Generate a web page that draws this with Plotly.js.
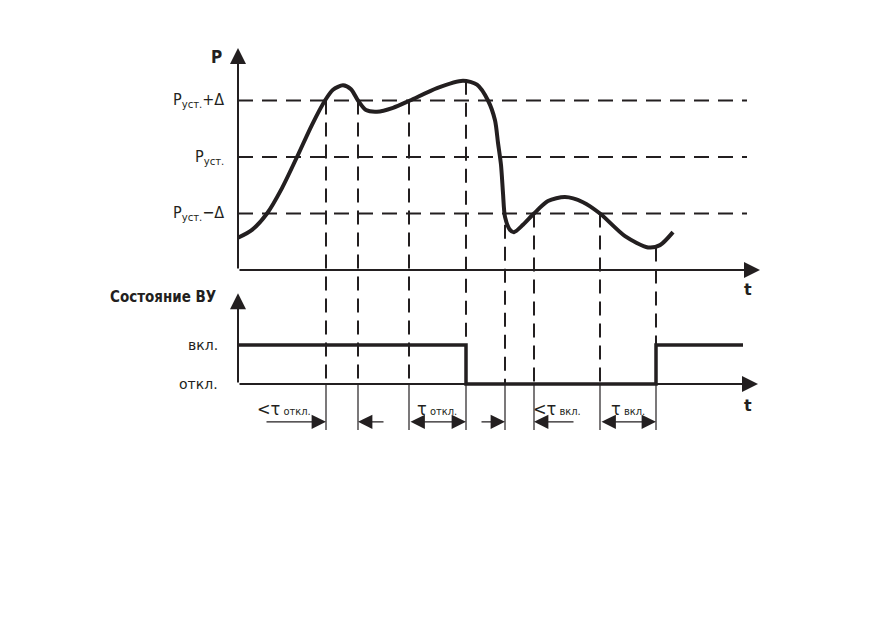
<!DOCTYPE html>
<html><head><meta charset="utf-8">
<script src="https://cdn.plot.ly/plotly-3.0.1.min.js"></script>
<style>html,body{margin:0;padding:0;background:#fff}</style>
</head><body><div id="chart" style="width:872px;height:618px"></div>
<script>
// ---- data (t: time units, P: in units of Δ relative to Pуст., state: 0 = откл., 1 = вкл.)
const curveT = [0, 1.4, 2.9, 4.4, 5.9, 7.4, 8.7, 9.5, 10.5, 11.3, 12.0, 12.8, 13.9, 15.5, 17.2, 19.9, 22.5, 23.9, 25.0, 25.7, 26.0, 26.3, 26.5, 26.7, 27.2, 27.6, 28.5, 29.6, 31.0, 32.7, 34.5, 36.2, 38.7, 41.0, 42.2, 43.5];
const curveP = [-1.43, -1.29, -1.0, -0.55, 0, 0.57, 1.0, 1.19, 1.27, 1.20, 1.0, 0.83, 0.80, 0.87, 1.0, 1.22, 1.35, 1.28, 1.0, 0.65, 0.25, -0.14, -0.64, -1.06, -1.29, -1.33, -1.20, -1.0, -0.78, -0.71, -0.80, -1.0, -1.40, -1.60, -1.56, -1.33];
const levelValues = [1, 0, -1];
const levelLabels = ['P<sub>уст.</sub>+Δ', 'P<sub>уст.</sub>', 'P<sub>уст.</sub>−Δ'];
const levelEndT = 50.9;
const switchT = [8.8, 12.0, 17.1, 22.8, 26.7, 29.6, 36.2, 41.8];
const switchTopP = [1.0, 1.0, 1.0, 1.35, -1.2, -1.0, -1.0, -1.6];
const stateT = [0, 22.8, 22.8, 41.8, 41.8, 50.5];
const stateS = [1, 1, 0, 0, 1, 1];
const stateValues = [1, 0];
const stateLabels = ['вкл.', 'откл.'];
const intervalFrom = [2.7, 14.7, 17.1, 24.2, 33.7, 36.2];
const intervalTo   = [8.8, 12.0, 22.8, 26.7, 29.6, 41.8];
const intervalBoth = [false, false, true, false, false, true];
const tauLabelT = [4.6, null, 19.9, null, 31.9, 39.0];
const tauLabels = ['&lt;τ<span style="font-size:11px"> откл.</span>', null, 'τ<span style="font-size:11px"> откл.</span>', null, '&lt;τ<span style="font-size:11px"> вкл.</span>', 'τ<span style="font-size:11px"> вкл.</span>'];

// ---- layout geometry
const W = 872, H = 618;
const pZeroPx = 157, pUnitPx = 56.5;   // pixel row of Pуст., pixels per Δ
const sZeroPx = 384, sUnitPx = 39;     // pixel row of откл., pixels per state step
const tZeroPx = 238, tUnitPx = 10;
const pRange = [(pZeroPx - H) / pUnitPx, pZeroPx / pUnitPx];
const sRange = [(sZeroPx - H) / sUnitPx, sZeroPx / sUnitPx];
const tRange = [-tZeroPx / tUnitPx, (W - tZeroPx) / tUnitPx];
const sToP = s => (pZeroPx - (sZeroPx - sUnitPx * s)) / pUnitPx;

const topAxisBottomP = -2.0, topAxisTopP = 1.93, topAxisEndT = 52.2;
const botAxisTopS = 2.33, botAxisEndT = 52.0;
const intervalS = -0.97, tauLabelS = -0.62, tickBottomS = -1.18;

const INK = '#231f20';
const FONT = '"DejaVu Sans", sans-serif';
const cond = s => '<span style="font-stretch:condensed">' + s + '</span>';

const traces = [];
levelValues.forEach(v => traces.push({x: [0, levelEndT], y: [v, v], mode: 'lines', line: {color: INK, width: 2, dash: '15px,9px'}, hoverinfo: 'skip'}));
switchT.forEach((t, i) => {
  traces.push({x: [t, t], y: [switchTopP[i], sToP(0)], mode: 'lines', line: {color: INK, width: 2, dash: '14px,8px'}, hoverinfo: 'skip'});
  traces.push({x: [t, t], y: [sToP(0), sToP(tickBottomS)], mode: 'lines', line: {color: INK, width: 1.2}, hoverinfo: 'skip'});
});
traces.push({x: curveT, y: curveP, mode: 'lines', line: {color: INK, width: 4, shape: 'spline', smoothing: 0.75}, hoverinfo: 'skip'});
traces.push({x: stateT, y: stateS, yaxis: 'y2', mode: 'lines', line: {color: INK, width: 3.5}, hoverinfo: 'skip'});

const ann = [];
const arrow = (x, y, ax, ay, yref, w, size, extra) => Object.assign({x, y, ax, ay, xref: 'x', yref, axref: 'x', ayref: yref, text: '', showarrow: true, arrowhead: 2, arrowsize: size, arrowwidth: w, arrowcolor: INK, standoff: 0, startstandoff: 0}, extra || {});
ann.push(arrow(0, topAxisTopP, 0, topAxisBottomP, 'y', 2, 1.6));
ann.push(arrow(topAxisEndT, topAxisBottomP, 0, topAxisBottomP, 'y', 2, 1.6));
ann.push(arrow(0, botAxisTopS, 0, 0, 'y2', 2, 1.6));
ann.push(arrow(botAxisEndT, 0, 0, 0, 'y2', 2, 1.6));
intervalFrom.forEach((f, i) => {
  ann.push(arrow(intervalTo[i], intervalS, f, intervalS, 'y2', 1.2, 2.4, intervalBoth[i] ? {arrowside: 'end+start', startarrowhead: 2, startarrowsize: 2.4} : {}));
  if (tauLabels[i]) ann.push({x: tauLabelT[i], y: tauLabelS, xref: 'x', yref: 'y2', text: cond(tauLabels[i]), showarrow: false, font: {family: FONT, size: 18, color: INK}});
});
levelValues.forEach((v, i) => ann.push({x: -1.2, y: v, xref: 'x', yref: 'y', xanchor: 'right', text: cond(levelLabels[i]), showarrow: false, font: {family: FONT, size: 16, color: INK}}));
stateValues.forEach((v, i) => ann.push({x: -1.8, y: v, xref: 'x', yref: 'y2', xanchor: 'right', text: stateLabels[i], showarrow: false, font: {family: FONT, size: 14, color: INK}}));
ann.push({x: -1.4, y: 1.77, xref: 'x', yref: 'y', xanchor: 'right', text: cond('<b>P</b>'), showarrow: false, font: {family: FONT, size: 17, color: INK}});
ann.push({x: 51.0, y: -2.34, xref: 'x', yref: 'y', text: '<b>t</b>', showarrow: false, font: {family: FONT, size: 16, color: INK}});
ann.push({x: 51.0, y: -0.54, xref: 'x', yref: 'y2', text: '<b>t</b>', showarrow: false, font: {family: FONT, size: 16, color: INK}});
ann.push({x: -2.0, y: 2.23, xref: 'x', yref: 'y2', xanchor: 'right', text: cond('<b>Состояние ВУ</b>'), showarrow: false, font: {family: FONT, size: 15, color: INK}});

const layout = {
  width: W, height: H, autosize: false,
  margin: {l: 0, r: 0, t: 0, b: 0},
  paper_bgcolor: '#fff', plot_bgcolor: '#fff',
  showlegend: false,
  xaxis: {range: tRange, visible: false, fixedrange: true},
  yaxis: {range: pRange, visible: false, fixedrange: true},
  yaxis2: {range: sRange, visible: false, overlaying: 'y', fixedrange: true},
  annotations: ann
};
Plotly.newPlot('chart', traces, layout, {staticPlot: true, displayModeBar: false});
</script></body></html>
